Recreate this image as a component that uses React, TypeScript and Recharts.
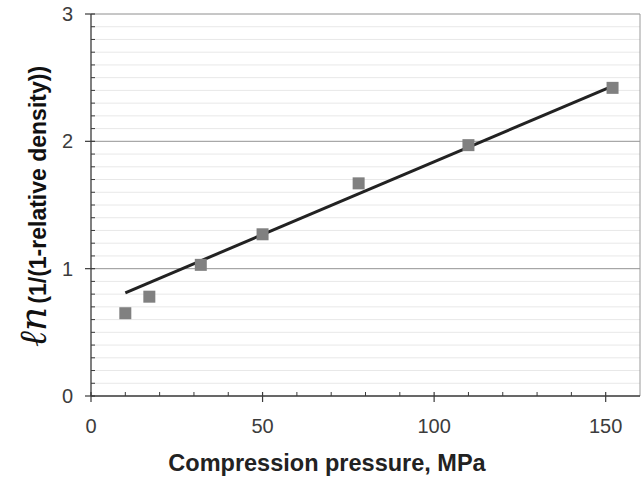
import {
  ComposedChart,
  Scatter,
  Line,
  XAxis,
  YAxis,
  CartesianGrid,
  ReferenceLine,
  Label,
} from "recharts";

const pressure = [10, 17, 32, 50, 78, 110, 152];
const lnDensity = [0.65, 0.78, 1.03, 1.27, 1.67, 1.97, 2.42];

const fitPressure = [10, 152.5];
const fitValue = [0.81, 2.44];

const xTicks = [0, 10, 20, 30, 40, 50, 60, 70, 80, 90, 100, 110, 120, 130, 140, 150];
const xLabels = [0, 50, 100, 150];
const yTicks = Array.from({ length: 31 }, (_, i) => i / 10);

const points = pressure.map((x, i) => ({ x, y: lnDensity[i] }));
const fit = fitPressure.map((x, i) => ({ x, y: fitValue[i] }));

const axisColor = "#3a3a3a";
const labelColor = "#3c3c3c";
const font = "Liberation Sans, Arial, sans-serif";

function XTick(props: any) {
  const { x, y, payload } = props;
  const v = payload.value;
  if (xLabels.includes(v)) {
    return (
      <g>
        <line x1={x} x2={x} y1={y - 4} y2={y + 6} stroke={axisColor} strokeWidth={1.2} />
        <text x={x} y={y + 37} textAnchor="middle" fontSize={20} fill={labelColor}
          fontFamily={font}>{v}</text>
      </g>
    );
  }
  return <line x1={x} x2={x} y1={y} y2={y - 4} stroke={axisColor} strokeWidth={1} />;
}

function YTick(props: any) {
  const { x, y, payload } = props;
  const v = payload.value;
  const major = Math.abs(v - Math.round(v)) < 1e-6;
  if (major) {
    return (
      <g>
        <line x1={x - 6} x2={x + 4} y1={y} y2={y} stroke={axisColor} strokeWidth={1.2} />
        <text x={x - 18} y={y + 7} textAnchor="end" fontSize={20} fill={labelColor}
          fontFamily={font}>{Math.round(v)}</text>
      </g>
    );
  }
  return <line x1={x} x2={x + 4} y1={y} y2={y} stroke={axisColor} strokeWidth={1} />;
}

function YTitle() {
  return (
    <text transform="translate(46, 347) rotate(-90)" fill="#111">
      <tspan fontFamily="DejaVu Serif, serif" fontStyle="italic" fontSize={38}>ℓn</tspan>
      <tspan fontFamily={font} fontWeight="bold" fontSize={23} dx={3}>
        (1/(1-relative density))
      </tspan>
    </text>
  );
}

function XTitle() {
  return (
    <text x={327} y={471} textAnchor="middle" fontSize={23.5} fontWeight="bold" fill="#222"
      fontFamily={font}>
      Compression pressure, MPa
    </text>
  );
}

function Square(props: any) {
  const { cx, cy } = props;
  return <rect x={cx - 6} y={cy - 6} width={12} height={12} fill="#808080" />;
}

export default function App() {
  return (
    <div style={{ position: "absolute", left: 0, top: 0, background: "#fff" }}>
      <ComposedChart
        width={641}
        height={477}
        margin={{ top: 14, right: 1, left: 0, bottom: 0 }}
      >
        <CartesianGrid vertical={false} stroke="#e8e8e8" />
        <ReferenceLine y={1} stroke="#9a9a9a" />
        <ReferenceLine y={2} stroke="#9a9a9a" />
        <ReferenceLine y={3} stroke="#9a9a9a" />
        <ReferenceLine x={160} stroke="#9a9a9a" />
        <XAxis
          type="number"
          dataKey="x"
          domain={[0, 160]}
          ticks={xTicks}
          interval={0}
          height={81}
          tickSize={0}
          tickMargin={0}
          tick={<XTick />}
          stroke={axisColor}
          strokeWidth={1.3}
          allowDataOverflow
        >
          <Label content={<XTitle />} />
        </XAxis>
        <YAxis
          type="number"
          dataKey="y"
          domain={[0, 3]}
          ticks={yTicks}
          interval={0}
          width={91}
          tickSize={0}
          tickMargin={0}
          tick={<YTick />}
          stroke={axisColor}
          strokeWidth={1.3}
          allowDataOverflow
        >
          <Label content={<YTitle />} />
        </YAxis>
        <Scatter data={points} shape={<Square />} isAnimationActive={false} />
        <Line
          data={fit}
          dataKey="y"
          type="linear"
          stroke="#222"
          strokeWidth={3}
          dot={false}
          activeDot={false}
          isAnimationActive={false}
        />
      </ComposedChart>
    </div>
  );
}
